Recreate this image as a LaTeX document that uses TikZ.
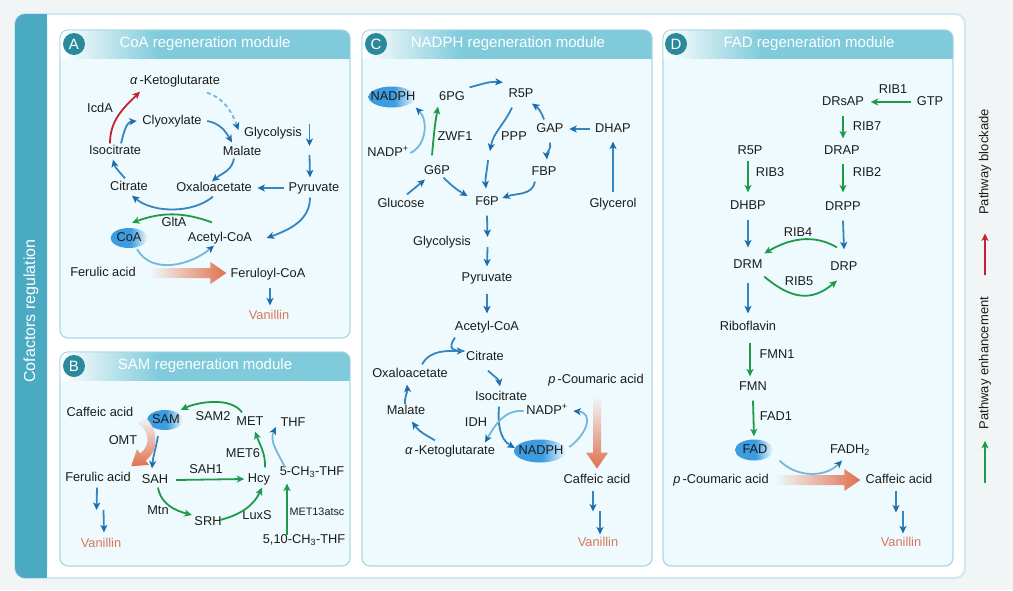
\documentclass[tikz,border=0pt]{standalone}
\usepackage{fontspec}
\setmainfont{Liberation Sans}
\usetikzlibrary{arrows.meta,shapes.geometric,calc}
\definecolor{bgc}{HTML}{F2F5F6}
\definecolor{stripc}{HTML}{4AAAC2}
\definecolor{pfill}{HTML}{EEFAFD}
\definecolor{pbord}{HTML}{A6D6E2}
\definecolor{headc}{HTML}{7FCBDB}
\definecolor{circc}{HTML}{2A8A9C}
\definecolor{bluc}{HTML}{3585C0}
\definecolor{dbluc}{HTML}{1E6BAC}
\definecolor{lbluc}{HTML}{74B8DA}
\definecolor{grnc}{HTML}{1E9A48}
\definecolor{redc}{HTML}{C8202B}
\definecolor{orgc}{HTML}{E2704E}
\definecolor{vanc}{HTML}{D9775B}
\definecolor{ellc}{HTML}{3D9CE0}
\definecolor{txtc}{HTML}{1C1C1C}
\definecolor{wbord}{HTML}{CFE8F3}
\pgfdeclarehorizontalshading{headsh}{100bp}{color(0bp)=(white); color(25bp)=(white); color(42bp)=(headc); color(100bp)=(headc)}
\pgfdeclarehorizontalshading{ellsh}{100bp}{color(0bp)=(ellc); color(25bp)=(ellc); color(52bp)=(ellc); color(75bp)=(pfill); color(100bp)=(pfill)}
\newcommand{\lblfont}{\fontsize{12.8}{14}\selectfont}
\tikzset{
  lab/.style={font=\lblfont, text=txtc, inner sep=1.5pt, text height=9.2pt, text depth=2.6pt},
  van/.style={lab, text=vanc},
  ell/.style={ellipse, shade, shading=ellsh, draw=none, inner sep=0pt},
  barr/.style={line width=1.8pt, draw=bluc, -{Stealth[length=7.5pt,width=7pt,inset=2pt,color=dbluc]}},
  lbarr/.style={line width=1.8pt, draw=lbluc, -{Stealth[length=7.5pt,width=7pt,inset=2pt,color=dbluc]}},
  garr/.style={line width=1.8pt, draw=grnc, -{Stealth[length=7.5pt,width=7pt,inset=2pt]}},
  rarr/.style={line width=1.8pt, draw=redc, -{Stealth[length=7.5pt,width=7pt,inset=2pt]}},
  panel/.style={draw=pbord, fill=pfill, line width=0.8pt, rounded corners=8pt},
  pbox/.style={draw=pbord, line width=0.8pt, rounded corners=8pt},
  circ/.style={circle, fill=circc, text=white, minimum size=22pt, inner sep=0pt, font=\fontsize{15}{15}\selectfont},
  ttl/.style={text=white, font=\fontsize{15}{17}\selectfont},
}
\begin{document}
\begin{tikzpicture}[x=1pt,y=1pt]
\useasboundingbox (0,0) rectangle (1013,-590);
\fill[bgc] (0,0) rectangle (1013,-590);
% main white panel and strip
\draw[wbord, line width=2pt, fill=white, rounded corners=10pt] (15,-14) rectangle (965,-578);
\fill[stripc, rounded corners=10pt] (15,-14) rectangle (47,-578);
\fill[stripc] (37,-14) rectangle (47,-578);
\node[rotate=90, text=white, font=\fontsize{16}{18}\selectfont] (cofr) at (31,-311) {Cofactors regulation};

% ---------- panels ----------
\draw[panel] (60,-30) rectangle (350,-338);
\begin{scope}\clip[rounded corners=8pt] (60,-30) rectangle (350,-338);
\shade[shading=headsh] (60,-30) rectangle (350,-58);\end{scope}
\draw[pbox] (60,-30) rectangle (350,-338);
\node[circ] (cA) at (74,-44) {A};
\node[ttl] (tA) at (205,-44) {CoA regeneration module};

\draw[panel] (60,-352) rectangle (350,-566);
\begin{scope}\clip[rounded corners=8pt] (60,-352) rectangle (350,-566);
\shade[shading=headsh] (60,-352) rectangle (350,-380);\end{scope}
\draw[pbox] (60,-352) rectangle (350,-566);
\node[circ] (cB) at (74,-366) {B};
\node[ttl] (tB) at (205,-366) {SAM regeneration module};

\draw[panel] (362,-30) rectangle (652,-566);
\begin{scope}\clip[rounded corners=8pt] (362,-30) rectangle (652,-566);
\shade[shading=headsh] (362,-30) rectangle (652,-58);\end{scope}
\draw[pbox] (362,-30) rectangle (652,-566);
\node[circ] (cC) at (376,-44) {C};
\node[ttl] (tC) at (508,-44) {NADPH regeneration module};

\draw[panel] (663,-30) rectangle (953,-566);
\begin{scope}\clip[rounded corners=8pt] (663,-30) rectangle (953,-566);
\shade[shading=headsh] (663,-30) rectangle (953,-58);\end{scope}
\draw[pbox] (663,-30) rectangle (953,-566);
\node[circ] (cD) at (676,-44) {D};
\node[ttl] (tD) at (809,-44) {FAD regeneration module};

% ---------- Panel A ----------
\node[lab] (akg) at (175,-81) {{\itshape α}\,-Ketoglutarate};
\node[lab] (icda) at (100,-109) {IcdA};
\node[lab] (clyox) at (172,-121) {Clyoxylate};
\node[lab] (glyA) at (273,-133) {Glycolysis};
\node[lab] (isoA) at (115,-151) {Isocitrate};
\node[lab] (malA) at (242,-152) {Malate};
\node[lab] (citA) at (129,-187) {Citrate};
\node[lab] (oaaA) at (214,-188) {Oxaloacetate};
\node[lab] (pyrA) at (314,-188) {Pyruvate};
\node[lab] (gltA) at (174,-223) {GltA};
\node[ell, minimum width=37pt, minimum height=20pt] (coa) at (129,-238) {};
\node[lab] (coat) at (129,-238) {CoA};
\node[lab] (acoaA) at (220,-238) {Acetyl-CoA};
\node[lab] (ferA) at (103,-273) {Ferulic acid};
\node[lab] (fercoa) at (268,-274) {Feruloyl-CoA};
\node[van] (vanA) at (269,-316) {Vanillin};

\draw[rarr] ([xshift=-5pt]isoA.north) to[out=90,in=-135] ([xshift=-35pt,yshift=-3pt]akg.south);
\draw[barr] ([xshift=6pt]isoA.north) to[out=75,in=185] ([xshift=-4pt]clyox.west);
\draw[lbarr, dash pattern=on 4pt off 3pt] ([xshift=32pt,yshift=-4pt]akg.south) to[out=-20,in=110] ([xshift=-4pt,yshift=3pt]glyA.west);
\draw[barr] ([xshift=4pt]clyox.east) to[out=-10,in=120] ([xshift=-10pt,yshift=2pt]malA.north);
\draw[barr] ([xshift=-8pt,yshift=1pt]malA.south) to[out=-100,in=40] ([xshift=-2pt,yshift=-1pt]oaaA.north);
\draw[barr] ([xshift=-4pt,yshift=1pt]citA.north) to[out=130,in=-75] ([xshift=-2pt,yshift=-1pt]isoA.south);
\draw[barr] ([xshift=6pt,yshift=9pt]glyA.east) -- ([xshift=6pt,yshift=-13pt]glyA.east);
\draw[barr] ([xshift=6pt,yshift=-22pt]glyA.east) -- ([xshift=-4pt,yshift=3pt]pyrA.north);
\draw[barr] ([xshift=-3pt]pyrA.west) -- ([xshift=4pt]oaaA.east);
\draw[barr] ([xshift=-1pt,yshift=-1pt]oaaA.south) to[out=-140,in=-40,looseness=0.85] ([xshift=3pt,yshift=-1pt]citA.south);
\draw[garr] ([xshift=-8pt,yshift=8pt]acoaA.north) to[out=160,in=20] ([xshift=3pt,yshift=5pt]coa.north);
\draw[barr] ([xshift=-4pt,yshift=-2pt]pyrA.south) to[out=-90,in=20] ([xshift=13pt]acoaA.east);
\draw[lbarr] ([xshift=8pt,yshift=-1pt]coa.south) to[out=-60,in=-140] ([xshift=-6pt]acoaA.south);
\shade[left color=pfill, right color=orgc] ($(ferA.east)+(12,5)$) -- ++(61,0) -- ++(0,6) -- ++(16,-11) -- ++(-16,-11) -- ++(0,6) -- ++(-61,0) -- cycle;
\draw[barr] ([xshift=2pt,yshift=-6pt]fercoa.south) -- ([xshift=1pt,yshift=3pt]vanA.north);

% ---------- Panel B ----------
\node[lab] (cafB) at (100,-413) {Caffeic acid};
\node[ell, minimum width=36pt, minimum height=20pt] (sam) at (165,-420) {};
\node[lab] (samt) at (166,-420) {SAM};
\node[lab] (sam2) at (213,-417) {SAM2};
\node[lab] (met) at (250,-422) {MET};
\node[lab] (thf) at (293,-423) {THF};
\node[lab] (omt) at (123,-441) {OMT};
\node[lab] (met6) at (243,-454) {MET6};
\node[lab] (sah1) at (206,-470) {SAH1};
\node[lab] (ferB) at (98,-478) {Ferulic acid};
\node[lab] (sah) at (155,-480) {SAH};
\node[lab] (hcy) at (259,-479) {Hcy};
\node[lab] (mthf) at (312,-472) {5-CH\textsubscript{3}-THF};
\node[lab] (mtn) at (158,-511) {Mtn};
\node[lab] (srh) at (208,-522) {SRH};
\node[lab] (luxs) at (257,-516) {LuxS};
\node[lab, font=\fontsize{10.8}{12}\selectfont] (met13) at (317,-512) {MET13atsc};
\node[lab] (mthf2) at (304,-540) {5,10-CH\textsubscript{3}-THF};
\node[van] (vanB) at (101,-544) {Vanillin};
\coordinate (midB) at ($(ferB.south)!0.5!(vanB.north)$);

\draw[garr] ([xshift=-8pt,yshift=2pt]met.north) to[out=125,in=25,looseness=0.8] ([xshift=3pt,yshift=3pt]sam.north east);
\draw[barr] ([xshift=-7pt,yshift=-6pt]sam.south) to[out=-100,in=85] ([xshift=-3pt,yshift=4pt]sah.north);
\shade[top color=pfill, bottom color=orgc] (143.5,-416.3) .. controls (157.5,-426) and (160.5,-449) .. (145.7,-460.6) -- (149.1,-464.9) -- (131.2,-466.2) -- (136.9,-449.1) -- (140.3,-453.4) .. controls (151.5,-445) and (148.5,-430) .. (138.5,-423.7) -- cycle;
\draw[garr] ([xshift=6pt]sah.east) -- ([xshift=-2pt]hcy.west);
\draw[garr] ([xshift=6pt,yshift=4pt]hcy.north) to[out=88,in=-70] ([xshift=5pt,yshift=-2pt]met.south);
\draw[lbarr] ([xshift=-27pt,yshift=-3pt]mthf.north) to[out=115,in=-115] ([xshift=-3pt,yshift=-4pt]thf.west);
\draw[garr] ([xshift=-17pt,yshift=-3pt]mthf2.north) -- ([xshift=-25pt,yshift=-4pt]mthf.south);
\draw[garr] ([xshift=3pt]sah.south) to[out=-80,in=165] ([xshift=-1pt,yshift=7pt]srh.west);
\draw[garr] ([xshift=-3pt,yshift=2pt]srh.east) to[out=15,in=-115] ([xshift=3pt,yshift=-1pt]hcy.south);
\draw[barr] ([xshift=-1pt,yshift=-2pt]ferB.south) -- ([xshift=-3pt,yshift=1pt]midB);
\draw[barr] ([xshift=4pt,yshift=1pt]midB) -- ([xshift=3pt,yshift=4pt]vanB.north);

% ---------- Panel C ----------
\node[ell, minimum width=47pt, minimum height=21pt] (nadph1) at (392,-97) {};
\node[lab] (nadph1t) at (393,-97) {NADPH};
\node[lab] (pg6) at (452,-97) {6PG};
\node[lab] (r5p) at (521,-94) {R5P};
\node[lab] (zwf1) at (455,-137) {ZWF1};
\node[lab] (ppp) at (514,-137) {PPP};
\node[lab] (gap) at (550,-129) {GAP};
\node[lab] (dhap) at (613,-129) {DHAP};
\node[lab] (nadp1) at (388,-153) {NADP\textsuperscript{+}};
\node[lab] (g6p) at (437,-171) {G6P};
\node[lab] (fbp) at (544,-172) {FBP};
\node[lab] (glc) at (401,-204) {Glucose};
\node[lab] (f6p) at (487,-202) {F6P};
\node[lab] (glyc) at (613,-204) {Glycerol};
\node[lab] (glyC) at (442,-242) {Glycolysis};
\node[lab] (pyrC) at (487,-278) {Pyruvate};
\node[lab] (acoaC) at (487,-327) {Acetyl-CoA};
\node[lab] (citC) at (485,-357) {Citrate};
\node[lab] (oaaC) at (410,-374) {Oxaloacetate};
\node[lab] (pcaC) at (596,-380) {\textit{p}\,-Coumaric acid};
\node[lab] (isoC) at (501,-397) {Isocitrate};
\node[lab] (malC) at (406,-411) {Malate};
\node[lab] (nadp2) at (547,-411) {NADP\textsuperscript{+}};
\node[lab] (idh) at (476,-423) {IDH};
\node[lab] (akgC) at (450,-451) {{\itshape α}\,-Ketoglutarate};
\node[ell, minimum width=52pt, minimum height=23pt] (nadph2) at (540,-451) {};
\node[lab] (nadph2t) at (541,-451) {NADPH};
\node[lab] (cafC) at (597,-480) {Caffeic acid};
\node[van] (vanC) at (598,-543) {Vanillin};
\coordinate (pppa) at (490,-151);
\coordinate (pppb) at (488,-160);
\coordinate (midC) at ($(cafC.south)!0.5!(vanC.north)$);

\draw[barr] ([xshift=3pt,yshift=2pt]pg6.north east) to[out=15,in=175] ([xshift=-4pt,yshift=4pt]r5p.north west);
\draw[lbarr] (nadp1.east) to[out=25,in=-45] ([xshift=7pt,yshift=-3pt]nadph1.south east);
\draw[garr] ([xshift=-5pt,yshift=8pt]g6p.north) to[out=85,in=-100] ([xshift=-14pt,yshift=-2pt]pg6.south);
\draw[barr] ([xshift=-9pt,yshift=-6pt]r5p.south) to[out=-115,in=80] (pppa);
\draw[barr] (pppb) to[out=-95,in=95] ([xshift=-1pt,yshift=6pt]f6p.north);
\draw[barr] ([xshift=-6pt,yshift=2pt]gap.north) to[out=110,in=-35] ([xshift=11pt,yshift=-2pt]r5p.south);
\draw[barr] ([xshift=-4pt]dhap.west) -- ([xshift=4pt]gap.east);
\draw[barr] ([yshift=-6pt]gap.south) to[out=-75,in=95] ([xshift=3pt,yshift=5pt]fbp.north);
\draw[barr] ([xshift=-9pt,yshift=-2pt]fbp.south) to[out=-100,in=20] ([xshift=2pt,yshift=4pt]f6p.east);
\draw[barr] ([xshift=-8pt,yshift=1pt]g6p.south east) to[out=-45,in=150] ([xshift=-6pt,yshift=6pt]f6p.west);
\draw[barr] ([xshift=6pt,yshift=2pt]glc.north) -- ([xshift=-12pt,yshift=-1pt]g6p.south);
\draw[barr] ([yshift=4pt]glyc.north) -- ([yshift=-5pt]dhap.south);
\draw[barr] ([yshift=-6pt]f6p.south) -- ([xshift=15pt,yshift=5pt]glyC.east);
\draw[barr] ([xshift=15pt,yshift=-5pt]glyC.east) -- ([yshift=4pt]pyrC.north);
\draw[barr] ([yshift=-8pt]pyrC.south) -- ([yshift=6pt]acoaC.north);
\draw[barr] ([xshift=12pt,yshift=2pt]oaaC.north) to[out=60,in=180] ([yshift=6pt]citC.west);
\draw[line width=1.8pt, draw=bluc] ([xshift=-32pt,yshift=-3pt]acoaC.south) to[out=-125,in=180,looseness=2] ([yshift=6pt]citC.west);
\draw[barr] ([xshift=3pt,yshift=-6pt]citC.south) to[out=-45,in=100] ([xshift=-1pt,yshift=3pt]isoC.north);
\draw[barr] ([xshift=-2pt,yshift=-2pt]isoC.south) to[out=-95,in=150] ([xshift=1pt,yshift=3pt]nadph2.west);
\draw[lbarr] ([xshift=-1pt]nadp2.west) to[out=175,in=60] ([xshift=35pt,yshift=1pt]akgC.north);
\draw[lbarr] ([xshift=3pt,yshift=4pt]nadph2.east) to[out=35,in=-5,looseness=1.5] ([xshift=4pt]nadp2.east);
\draw[barr] ([xshift=-15pt,yshift=3pt]akgC.north) to[out=150,in=-55] ([xshift=6pt,yshift=-3pt]malC.south);
\draw[barr] ([xshift=-1pt,yshift=-1pt]malC.north) to[out=95,in=-85] ([xshift=-3pt,yshift=-3pt]oaaC.south);
\shade[top color=pfill, bottom color=orgc] ($(pcaC.south)+(-3,-8)$) -- ++(0,-57) -- ++(-7,0) -- ++(11,-16) -- ++(11,16) -- ++(-7,0) -- ++(0,57) -- cycle;
\draw[barr] ([xshift=-4pt,yshift=-3pt]cafC.south) -- ([xshift=-4.5pt]midC);
\draw[barr] ([xshift=2.5pt,yshift=1pt]midC) -- ([xshift=2pt,yshift=1pt]vanC.north);

% ---------- Panel D ----------
\node[lab] (rib1) at (893,-90) {RIB1};
\node[lab] (drsap) at (843,-102) {DRsAP};
\node[lab] (gtp) at (930,-102) {GTP};
\node[lab] (rib7) at (867,-127) {RIB7};
\node[lab] (r5pD) at (750,-151) {R5P};
\node[lab] (drap) at (842,-151) {DRAP};
\node[lab] (rib3) at (770,-173) {RIB3};
\node[lab] (rib2) at (867,-173) {RIB2};
\node[lab] (dhbp) at (748,-206) {DHBP};
\node[lab] (drpp) at (843,-207) {DRPP};
\node[lab] (rib4) at (798,-233) {RIB4};
\node[lab] (drm) at (748,-265) {DRM};
\node[lab] (drp) at (844,-267) {DRP};
\node[lab] (rib5) at (799,-282) {RIB5};
\node[lab] (ribo) at (748,-327) {Riboflavin};
\node[lab] (fmn1) at (777,-355) {FMN1};
\node[lab] (fmn) at (753,-387) {FMN};
\node[lab] (fad1) at (776,-417) {FAD1};
\node[ell, minimum width=38pt, minimum height=21pt] (fad) at (754,-450) {};
\node[lab] (fadt) at (755,-450) {FAD};
\node[lab] (fadh2) at (850,-450) {FADH\textsubscript{2}};
\node[lab] (pcaD) at (721,-480) {\textit{p}\,-Coumaric acid};
\node[lab] (cafD) at (899,-480) {Caffeic acid};
\node[van] (vanD) at (901,-543) {Vanillin};
\coordinate (midD) at ($(cafD.south)!0.5!(vanD.north)$);

\draw[garr] ([xshift=-4pt]gtp.west) -- ([xshift=5pt]drsap.east);
\draw[garr] ([yshift=-6pt]drsap.south) -- ([xshift=1pt,yshift=5pt]drap.north);
\draw[garr] ([xshift=1pt,yshift=-5pt]drap.south) -- ([yshift=7pt]drpp.north);
\draw[garr] ([xshift=-2pt,yshift=-2pt]r5pD.south) -- ([yshift=6pt]dhbp.north);
\draw[barr] ([yshift=-6pt]dhbp.south) -- ([yshift=10pt]drm.north);
\draw[barr] ([yshift=-6pt]drpp.south) -- ([yshift=10pt]drp.north);
\draw[garr] ([xshift=-7pt,yshift=12pt]drp.north) to[out=150,in=30] ([yshift=4pt]drm.north east);
\draw[garr] ([yshift=-4pt]drm.south east) to[out=-40,in=-140,looseness=1.2] ([xshift=-7pt,yshift=-6pt]drp.south);
\draw[barr] ([yshift=-10pt]drm.south) -- ([yshift=6pt]ribo.north);
\draw[garr] ([xshift=2pt,yshift=-8pt]ribo.south) -- ([xshift=-3pt,yshift=3pt]fmn.north);
\draw[garr] ([yshift=-6pt]fmn.south) -- ([yshift=3pt]fad.north);
\draw[lbarr] ([xshift=12pt,yshift=-3pt]fad.south east) to[out=-45,in=-135] ([xshift=-8pt,yshift=-3pt]fadh2.south);
\shade[left color=pfill, right color=orgc] ($(pcaD.east)+(4,5)$) -- ++(70,0) -- ++(0,6) -- ++(16,-11) -- ++(-16,-11) -- ++(0,6) -- ++(-70,0) -- cycle;
\draw[barr] ([xshift=-3pt,yshift=-3pt]cafD.south) -- ([xshift=-4pt,yshift=-1pt]midD);
\draw[barr] ([xshift=3pt,yshift=1pt]midD) -- ([xshift=2pt,yshift=2pt]vanD.north);

% ---------- legend ----------
\node[lab, rotate=90, font=\fontsize{13}{15}\selectfont] (lgb) at (985,-162) {Pathway blockade};
\node[lab, rotate=90, font=\fontsize{13}{15}\selectfont] (lge) at (985,-363) {Pathway enhancement};
\draw[rarr, line width=1.4pt] ([yshift=-59pt]lgb.west) -- ([yshift=-17pt]lgb.west);
\draw[garr, line width=1.4pt] ([yshift=-52pt]lge.west) -- ([yshift=-10pt]lge.west);
\end{tikzpicture}
\end{document}
